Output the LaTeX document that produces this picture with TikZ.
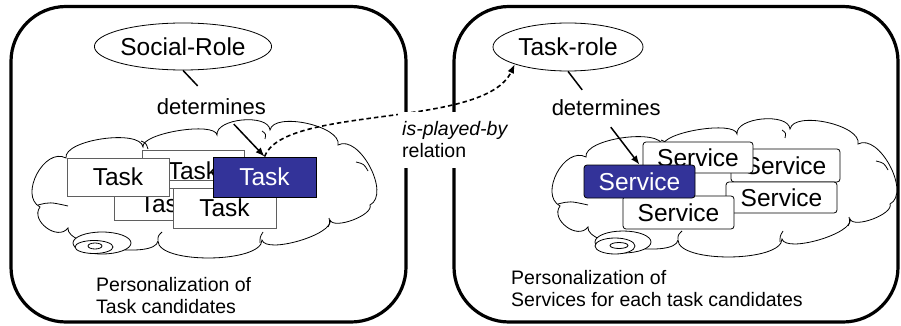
\documentclass[tikz,border=0pt]{standalone}
\usepackage{fontspec}
\setmainfont{Liberation Sans}
\usetikzlibrary{arrows.meta, shapes.geometric, calc}
\definecolor{selblue}{RGB}{51, 51, 153}
\definecolor{boxgray}{RGB}{95, 95, 95}
\tikzset{
  panel/.style={
    draw, rectangle, line width=3.2pt, rounded corners=55pt, inner sep=0pt
  },
  roleellipse/.style={
    ellipse, draw, line width=0.8pt, inner sep=0pt
  },
  cloudline/.style={
    draw, fill=white, line width=0.8pt
  },
  % one puff after another, clockwise
  cloudblob/.pic={
    \path[cloudline] (40,207)
      .. controls +(-21.5,-11.4) and +(-21.5,-11.4) .. (66,158)
      .. controls +(-2.6,-18.3) and +(-2.6,-18.3) .. (143,147)
      .. controls +(-2.2,-13.8) and +(-2.2,-13.8) .. (217,135)
      .. controls +(-1.6,-16.7) and +(-1.6,-16.7) .. (270,130)
      .. controls +(4.1,-18.8) and +(4.1,-18.8) .. (338,145)
      .. controls +(21.1,-11.2) and +(21.1,-11.2) .. (370,205)
      .. controls +(3.8,10) and +(3.8,10) .. (330,220)
      .. controls +(4.2,14.4) and +(4.2,14.4) .. (262,240)
      .. controls +(0,23.3) and +(0,23.3) .. (158,241)
      .. controls +(-2.7,18.6) and +(-2.7,18.6) .. (68,228)
      .. controls +(-10.2,13.6) and +(-10.2,13.6) .. (40,207) -- cycle;
    % inner puff ends
    \draw[line width=0.8pt] (38,205) .. controls (50,202) .. (68,206)
      (141,141) .. controls (146,143) .. (148,149)
      (262,131) .. controls (266,134) .. (265,139)
      (356,162) .. controls (364,164) .. (368,171)
      (158,240) .. controls (158,236) .. (162,232)
      (260,243) .. controls (260,237) .. (263,232)
      (328,227) .. controls (330,223) .. (329,218);
  },
  tailring/.style={
    ellipse, draw, fill=white, line width=0.8pt, inner sep=0pt
  },
  taskbox/.style={
    rectangle, draw=boxgray, fill=white, line width=0.9pt, inner sep=0pt,
    minimum width=102pt, minimum height=39pt
  },
  servicebox/.style={
    rectangle, draw, fill=white, rounded corners=3pt, line width=0.8pt,
    inner sep=0pt, minimum width=110pt, minimum height=32pt
  },
  chosen/.style={
    fill=selblue, text=white, draw=black
  },
  arrow/.style={
    ->, >={Latex[length=9pt, width=7pt]}, line width=1.5pt
  },
  playedby/.style={
    ->, >={Latex[length=9pt, width=7pt]}, line width=1.6pt,
    dash pattern=on 4.5pt off 3pt
  },
  smalltext/.style={
    font=\fontsize{19.5}{22}\selectfont, align=left, inner sep=0pt
  }
}

\begin{document}
\begin{tikzpicture}[x=1pt, y=-1pt, font=\fontsize{24.5}{29}\selectfont]
  \useasboundingbox (0,0) rectangle (901,326);

  % the two panels
  \node[panel, minimum width=395pt, minimum height=315.5pt] (leftpanel) at (208.5,164.25) {};
  \node[panel, minimum width=444pt, minimum height=315.5pt] (rightpanel) at (676,164.25) {};

  % roles
  \node[roleellipse, minimum width=170pt, minimum height=47pt] (srole) at (183,46.5) {Social-Role};
  \node[roleellipse, minimum width=150pt, minimum height=48pt] (trole) at (568,47) {Task-role};

  % clouds with their tails
  \pic at (0,0) {cloudblob};
  \node[tailring, minimum width=58pt, minimum height=22pt] (ttail1) at (102,243) {};
  \node[tailring, minimum width=38pt, minimum height=13pt] (ttail2) at (94,247) {};
  \node[tailring, minimum width=14pt, minimum height=6pt] (ttail3) at (95,246) {};

  \pic at (520,-1) {cloudblob};
  \node[tailring, minimum width=56pt, minimum height=22pt] (stail1) at (623,242) {};
  \node[tailring, minimum width=40pt, minimum height=16pt] (stail2) at (615,246) {};
  \node[tailring, minimum width=18pt, minimum height=6pt] (stail3) at (619,245.5) {};

  % task candidates
  \node[taskbox, minimum height=30pt, text height=28pt, text depth=0pt] (taskB) at (193,165) {Task};
  \node[taskbox, minimum height=32pt] (taskC) at (165,204) {Task};
  \node[taskbox, minimum height=38pt] (taskA) at (118,177) {Task};
  \node[taskbox, minimum width=103pt, minimum height=40pt] (taskD) at (224.5,208) {Task};
  \node[taskbox, chosen, minimum width=103pt, minimum height=40pt] (taskE) at (264.5,177) {Task};

  % services
  \node[servicebox, minimum width=109pt, minimum height=33pt] (servB) at (785.5,165.5) {Service};
  \node[servicebox, minimum height=31pt] (servA) at (698,157.5) {Service};
  \node[servicebox, minimum width=111pt, minimum height=31pt] (servC) at (781.5,197.5) {Service};
  \node[servicebox, minimum width=111pt, minimum height=33pt] (servE) at (678.5,212.5) {Service};
  \node[servicebox, chosen, minimum width=111pt, minimum height=33pt] (servD) at (639.5,181.5) {Service};

  % determines
  \coordinate (m1) at ($(srole.south)!0.416!(taskE.north)$);
  \node[font=\fontsize{22}{26}\selectfont, inner sep=0pt] (det1) at ([xshift=-5.5pt]m1) {determines};
  \draw[line width=1.5pt, shorten >=28pt] (srole.south) -- (m1);
  \draw[arrow, shorten <=24.5pt] (m1) -- (taskE.north);

  \coordinate (m2) at ($(trole.south)!0.394!(servD.north)$);
  \node[font=\fontsize{22}{26}\selectfont, inner sep=0pt] (det2) at ([xshift=10pt]m2) {determines};
  \draw[line width=1.5pt, shorten >=23pt] (trole.south) -- (m2);
  \draw[arrow, shorten <=24pt] (m2) -- (servD.north);

  % is-played-by
  \draw[playedby] (taskE.north) .. controls +(20,-52) and +(-30,65) .. (trole.south west);
  \node[smalltext, fill=white, inner xsep=4pt, inner ysep=10pt, anchor=west] (rel) at (398,140) {\textit{is-played-by}\\relation};

  % captions
  \node[smalltext, anchor=west] (tcap) at (96,296) {Personalization of\\Task candidates};
  \node[smalltext, anchor=west] (scap) at (511,288.5) {Personalization of\\Services for each task candidates};
\end{tikzpicture}
\end{document}
